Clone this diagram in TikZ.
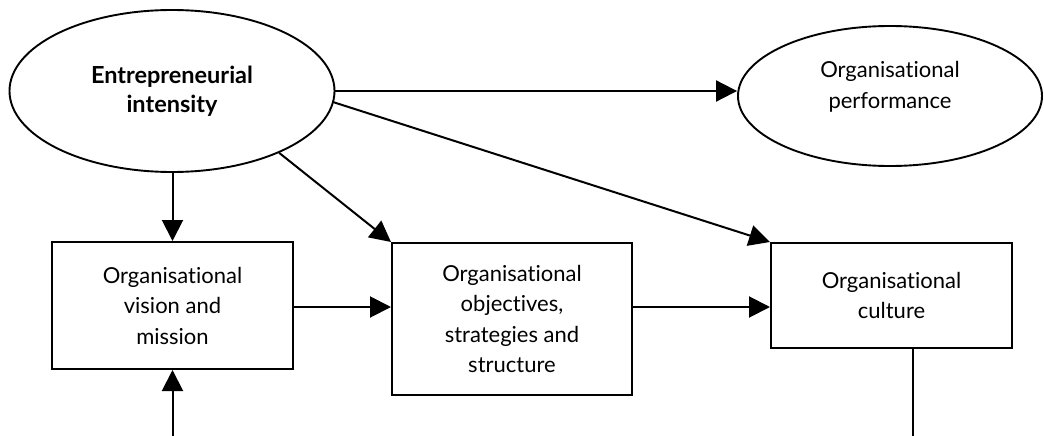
\documentclass[tikz,border=0pt]{standalone}
\usepackage{fontspec}
\setmainfont{Lato}[Ligatures={NoCommon}]
\usetikzlibrary{arrows.meta,shapes.geometric}
\begin{document}
\begin{tikzpicture}[x=1pt,y=-1pt,
  every node/.style={font=\fontsize{22}{30.5}\selectfont, align=center},
  ell/.style={draw, ellipse, line width=1.9pt, inner sep=0pt},
  boxn/.style={draw, rectangle, line width=2pt, inner sep=0pt},
  arr/.style={line width=2pt, -{Triangle[length=21pt,width=21pt]}},
  ln/.style={line width=2pt}]
\useasboundingbox (0,0) rectangle (1044,436);
\node[ell, minimum width=325pt, minimum height=162pt,
  font=\fontsize{23.5}{29}\selectfont\bfseries] (ent) at (172,91)
  {Entrepreneurial\\intensity};
\node[ell, minimum width=304pt, minimum height=140pt] (perf) at (890,96) {};
\node (perft) at (890,87) {Organisational\\performance};
\node[boxn, minimum width=241pt, minimum height=127pt] (vis) at (172.5,305.5)
  {Organisational\\vision and\\mission};
\node[boxn, minimum width=240pt, minimum height=152pt] (obj) at (512,319)
  {Organisational\\objectives,\\strategies and\\structure};
\node[boxn, minimum width=241pt, minimum height=105pt] (cult) at (891.5,295.5)
  {Organisational\\culture};
\coordinate (visin) at (172.5,436);
\coordinate (cultout) at (913,436);
\draw[arr] (ent.east) -- (ent.east -| perf.west);
\draw[arr] (ent.-4) -- (cult.north west);
\draw[arr] (ent.-30) -- (obj.north west);
\draw[arr] (ent.south -| vis.north) -- (vis.north);
\draw[arr] (visin) -- (vis.south);
\draw[arr] (vis.east |- 0,307) -- (obj.west |- 0,307);
\draw[arr] (obj.east |- 0,307) -- (cult.west |- 0,307);
\draw[ln] (cult.south -| cultout) -- (cultout);
\end{tikzpicture}
\end{document}
